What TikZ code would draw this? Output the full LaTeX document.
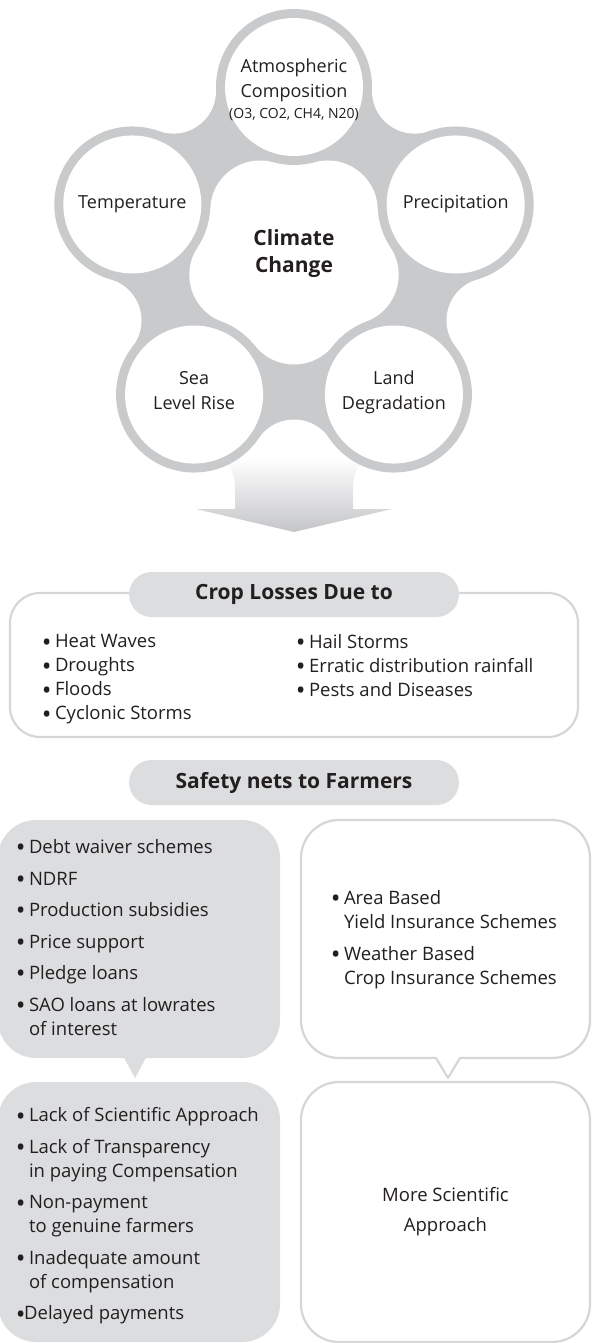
\documentclass[tikz,border=0pt]{standalone}
\usepackage{fontspec}
\usepackage{graphicx}
\setmainfont{Open Sans}
\usetikzlibrary{positioning,calc}
\definecolor{ringgray}{HTML}{C9CACC}
\definecolor{pillgray}{HTML}{DCDDDF}
\definecolor{linegray}{HTML}{D5D6D8}
\definecolor{arrowgray}{HTML}{C4C5C8}
\definecolor{inkgray}{HTML}{231F20}
\newcommand{\bul}{\makebox[7pt][c]{\raisebox{-3.2pt}{\scalebox{1.4}{\textbullet}}}}

\begin{document}
\begin{tikzpicture}[x=1pt,y=1pt]
                    \tikzstyle{every node}=[inner sep=0,text=inkgray]
                    \tikzstyle{lbl}=[align=center,font=\fontsize{18}{25}\selectfont]
                    \tikzstyle{hub}=[align=center,font=\bfseries\fontsize{21}{27}\selectfont]
                    \tikzstyle{pill}=[fill=pillgray,rounded corners=22.5,minimum width=330,minimum height=45,font=\bfseries\fontsize{21}{25}\selectfont]
                    \tikzstyle{frame}=[draw=linegray,line width=2.2,rounded corners=30]
                    \tikzstyle{graybox}=[fill=pillgray,rounded corners=38]
                    \tikzstyle{whitebox}=[draw=linegray,line width=2.2,fill=white,rounded corners=38]
                    \tikzstyle{list}=[align=left,anchor=north west,font=\fontsize{18.5}{24}\selectfont]
                    \useasboundingbox (0,0) rectangle (592,-1343);
                    {
                        \begin{scope}[shift={(294,-257)}]
                            \fill[ringgray] (90:170) -- (126:205.2) -- (162:170) -- (198:205.2) -- (234:170)
                                -- (270:205.2) -- (306:170) -- (342:205.2) -- (18:170) -- (54:205.2) -- cycle;
                            \fill[white] (90:170) -- (126:57.5) -- (162:170) -- (198:57.5) -- (234:170)
                                -- (270:57.5) -- (306:170) -- (342:57.5) -- (18:170) -- (54:57.5) -- cycle;
                            \foreach \a in {126,198,270,342,54}
                            {
                                \fill[white] (\a:205.2) circle (42.65);
                                \fill[white] (\a:57.5) circle (50);
                            }
                        \end{scope}

                        \shade[top color=white,bottom color=arrowgray]
                            (220,-458) .. controls (230,-462) and (235,-474) .. (235,-490) -- (235,-509)
                            -- (196,-509) -- (294,-532) -- (392,-509) -- (353,-509) -- (353,-490)
                            .. controls (353,-474) and (358,-462) .. (368,-458) -- cycle;

                        \begin{scope}[shift={(294,-257)}]
                            \foreach \a in {90,162,234,306,18}
                            {
                                \fill[ringgray] (\a:170) circle (78);
                                \fill[white] (\a:170) circle (69);
                            }
                            \node[lbl] (atmo) at (0,176.5) {Atmospheric\\Composition};
                            \node[font=\fontsize{14}{16}\selectfont,below=6 of atmo] (gases) {(O3, CO2, CH4, N20)};
                            \node[lbl] (temp) at (162:170) {Temperature};
                            \node[lbl] (precip) at (18:170) {Precipitation};
                            \node[lbl,yshift=3.5] (sea) at (234:170) {Sea\\Level Rise};
                            \node[lbl,yshift=2] (land) at (306:170) {Land\\Degradation};
                            \node[hub] (climate) at (0,3) {Climate\\Change};
                        \end{scope}

                        \node[frame,minimum width=568,minimum height=144] (lossbox) at (294,-665) {};
                        \node[pill] (losses) at (294,-594.5) {Crop Losses Due to};
                        \node[list] (lossleft) at (43,-634.5) {\bul\ Heat Waves\\\bul\ Droughts\\\bul\ Floods\\\bul\ Cyclonic Storms};
                        \node[list] (lossright) at (297,-634.5) {\bul\ Hail Storms\\\bul\ Erratic distribution rainfall\\\bul\ Pests and Diseases};

                        \node[pill] (nets) at (294,-782.5) {Safety nets to Farmers};

                        \node[graybox,minimum width=282,minimum height=238] (relief) at (139,-939) {};
                        \fill[pillgray] (123,-1056) -- (135,-1078) -- (147,-1056) -- cycle;
                        \node[list] (reliefitems) at (17,-839.5) {\bul\ Debt waiver schemes\\[7.5pt]\bul\ NDRF\\[7.5pt]\bul\ Production subsidies\\[7.5pt]\bul\ Price support\\[7.5pt]\bul\ Pledge loans\\[7.5pt]\bul\ SAO loans at lowrates\\\phantom{\bul\ }of interest};

                        \node[whitebox,minimum width=289,minimum height=238] (insure) at (445.5,-939) {};
                        \fill[white] (435,-1055) -- (448,-1076) -- (461,-1055) -- cycle;
                        \draw[linegray,line width=2.2,line join=round] (436,-1058) -- (448,-1078) -- (460,-1058);
                        \node[list] (insureitems) at (332,-890.5) {\bul\ Area Based\\\phantom{\bul\ }Yield Insurance Schemes\\[7.5pt]\bul\ Weather Based\\\phantom{\bul\ }Crop Insurance Schemes};

                        \node[graybox,minimum width=282,minimum height=260] (flaws) at (139,-1212) {};
                        \node[list] (flawitems) at (17,-1107.5) {\bul\ Lack of Scientific Approach\\[7.5pt]\bul\ Lack of Transparency\\\phantom{\bul\ }in paying Compensation\\[7.5pt]\bul\ Non-payment\\\phantom{\bul\ }to genuine farmers\\[7.5pt]\bul\ Inadequate amount\\\phantom{\bul\ }of compensation\\[7.5pt]\bul Delayed payments};

                        \node[whitebox,minimum width=289,minimum height=260,align=center,font=\fontsize{18.5}{30}\selectfont] (remedy) at (445.5,-1212) {More Scientific\\Approach};
                    }
\end{tikzpicture}
\end{document}
